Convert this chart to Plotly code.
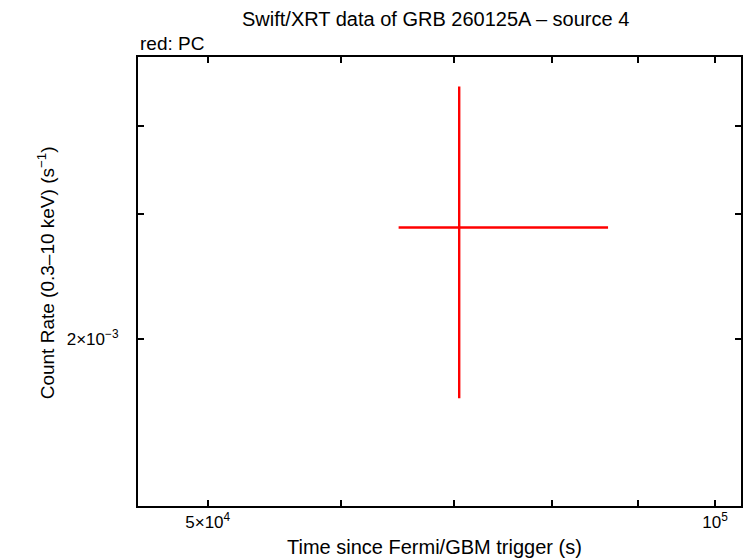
import plotly.graph_objects as go

# Data
time = [70500]
time_err_pos = [15900]
time_err_neg = [5600]
rate = [2.875e-3]
rate_err_pos = [1.668e-3]
rate_err_neg = [1.223e-3]

x_tickvals = [5e4, 6e4, 7e4, 8e4, 9e4, 1e5]
x_ticktext = ["5×10<sup>4</sup>", "", "", "", "", "10<sup>5</sup>"]
y_tickvals = [2e-3, 3e-3, 4e-3]
y_ticktext = ["2×10<sup>−3</sup>", "", ""]

FONT = "Liberation Sans, Arial, Helvetica, sans-serif"

fig = go.Figure()
fig.add_trace(go.Scatter(
    x=time, y=rate, mode="markers",
    marker=dict(size=0.1, color="#ff0000"),
    error_x=dict(type="data", symmetric=False, array=time_err_pos, arrayminus=time_err_neg,
                 color="#ff0000", thickness=2.4, width=0),
    error_y=dict(type="data", symmetric=False, array=rate_err_pos, arrayminus=rate_err_neg,
                 color="#ff0000", thickness=2.4, width=0),
    showlegend=False, hoverinfo="x+y",
))

axis_common = dict(
    type="log", showgrid=False, zeroline=False,
    showline=True, linecolor="black", linewidth=2, mirror="ticks",
    ticks="inside", ticklen=6, tickwidth=2, tickcolor="black",
    tickfont=dict(family=FONT, size=17, color="black"),
)

fig.update_xaxes(range=[4.6576, 5.0154], tickvals=x_tickvals, ticktext=x_ticktext, **axis_common)
fig.update_yaxes(range=[-2.934, -2.301], tickvals=y_tickvals, ticktext=y_ticktext,
                 ticklabelstandoff=14, **axis_common)

annotations = [
    dict(text="Swift/XRT data of GRB 260125A – source 4", x=0.494, y=1.0846,
         xanchor="center", yanchor="middle", font=dict(size=20)),
    dict(text="red: PC", x=0.0, y=1.031, xanchor="left", yanchor="middle", font=dict(size=19)),
    dict(text="Time since Fermi/GBM trigger (s)", x=0.491, y=-0.0913,
         xanchor="center", yanchor="middle", font=dict(size=20)),
    dict(text="Count Rate (0.3–10 keV) (s<sup>−1</sup>)", x=-0.152, y=0.519, textangle=-90,
         xanchor="center", yanchor="middle", font=dict(size=19)),
]
for a in annotations:
    a.update(xref="paper", yref="paper", showarrow=False)
    a["font"].update(family=FONT, color="black")

fig.update_layout(
    width=747, height=558,
    margin=dict(l=138, r=4, t=57, b=52),
    paper_bgcolor="white", plot_bgcolor="white",
    annotations=annotations,
    font=dict(family=FONT, color="black"),
)

fig.write_html("out.html", config={"displayModeBar": False},
               post_script="document.body.style.margin='0';document.body.style.overflow='hidden';")
